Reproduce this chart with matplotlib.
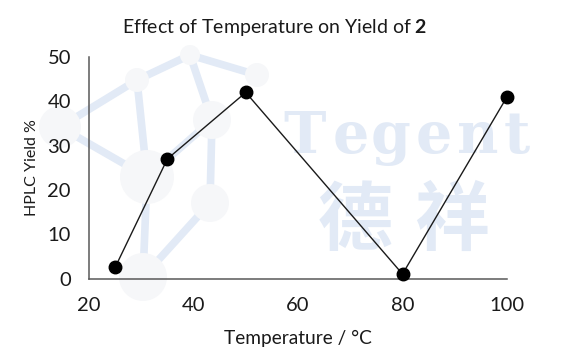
import matplotlib
matplotlib.use("Agg")
import matplotlib.pyplot as plt
from matplotlib.patches import Circle

temperature = [25, 35, 50, 80, 100]
yield_pct = [2.5, 27, 42, 1, 41]
x_ticks = [20, 40, 60, 80, 100]
y_ticks = [0, 10, 20, 30, 40, 50]

plt.rcParams['font.family'] = ['Lato', 'DejaVu Sans']
plt.rcParams['mathtext.fontset'] = 'custom'
plt.rcParams['mathtext.rm'] = 'Lato'
plt.rcParams['mathtext.bf'] = 'Lato:bold'

W, H = 567, 362
fig = plt.figure(figsize=(W / 100, H / 100), dpi=100)

# --- faint watermark (decoration) ---
bg = fig.add_axes([0, 0, 1, 1], zorder=-1)
bg.set_xlim(0, W)
bg.set_ylim(H, 0)
bg.axis('off')
wm_blue = '#e2eaf6'
nodes = {'A': (137, 80, 12), 'B': (190, 55, 10), 'C': (257, 75, 12), 'D': (212, 120, 19),
         'E': (60, 127, 21), 'F': (147, 177, 27), 'G': (210, 203, 19), 'H': (143, 277, 24)}
edges = [('E', 'A'), ('A', 'B'), ('B', 'C'), ('B', 'D'), ('A', 'F'), ('E', 'F'),
         ('D', 'G'), ('F', 'H'), ('G', 'H'), ('D', 'F')]
for a, b in edges:
    xa, ya, _ = nodes[a]
    xb, yb, _ = nodes[b]
    bg.plot([xa, xb], [ya, yb], color=wm_blue, lw=5.5, solid_capstyle='round', zorder=1)
for k, (x, y, r) in nodes.items():
    bg.add_patch(Circle((x, y), r, facecolor='#f6f7f9', edgecolor='none', zorder=2))
for ch, cx in zip("Tegent", [305, 351, 391, 434, 478, 517]):
    bg.text(cx, 153, ch, ha='center', va='baseline', fontsize=41, fontweight='bold',
            family='DejaVu Serif', color=wm_blue, zorder=3)
bg.text(355, 222, '德', ha='center', va='center', fontsize=54, fontweight='bold',
        family='Noto Sans CJK SC', color=wm_blue, zorder=3)
bg.text(452, 222, '祥', ha='center', va='center', fontsize=54, fontweight='bold',
        family='Noto Sans CJK SC', color=wm_blue, zorder=3)

# --- main chart ---
left, right, top, bottom = 89, 507, 57, 278.5
ax = fig.add_axes([left / W, 1 - bottom / H, (right - left) / W, (bottom - top) / H])
ax.patch.set_visible(False)
ax.plot(temperature, yield_pct, color='#1a1a1a', lw=1.0, marker='o', markersize=9,
        markerfacecolor='black', markeredgecolor='black', clip_on=False, zorder=5)
ax.set_xlim(20, 100)
ax.set_ylim(0, 50)
ax.set_xticks(x_ticks)
ax.set_yticks(y_ticks)
ax.tick_params(length=0, labelsize=14.5, pad=13, colors='#1a1a1a')
for s in ['top', 'right']:
    ax.spines[s].set_visible(False)
for s in ['left', 'bottom']:
    ax.spines[s].set_color('#595959')
    ax.spines[s].set_linewidth(1.1)

fig.text(275 / W, 1 - 27 / H, r'Effect of Temperature on Yield of $\mathbf{2}$',
         ha='center', va='center', fontsize=14, color='#1a1a1a')
fig.text(298 / W, 1 - 338 / H, 'Temperature / °C', ha='center', va='center',
         fontsize=13.8, color='#1a1a1a')
fig.text(32 / W, 1 - 168 / H, 'HPLC Yield %', ha='center', va='center', rotation=90,
         fontsize=11.5, color='#1a1a1a')

fig.savefig('out.png', dpi=100)
